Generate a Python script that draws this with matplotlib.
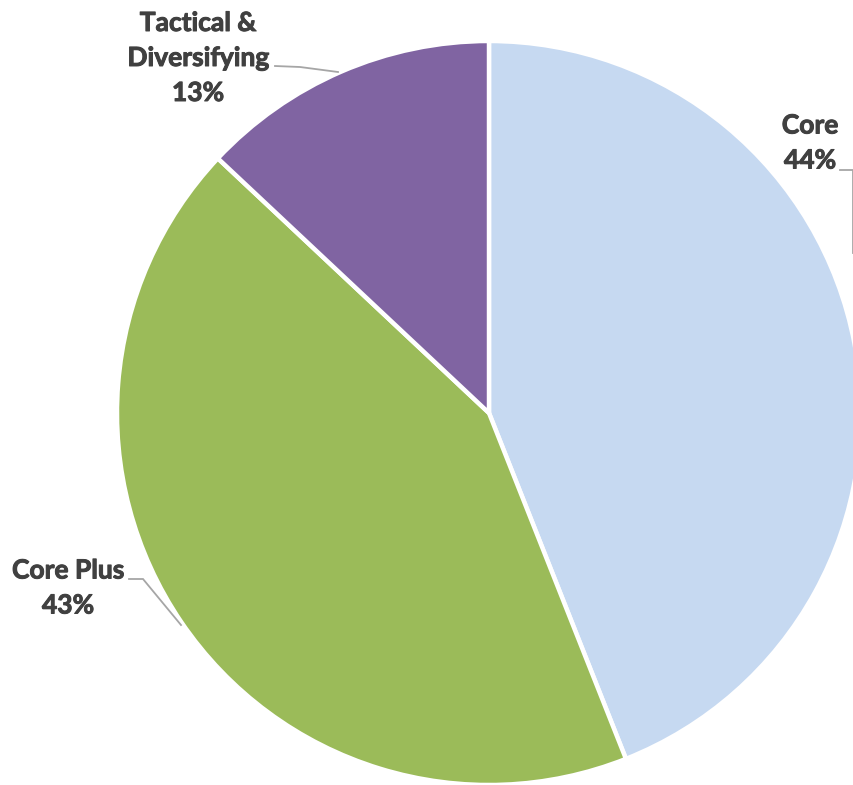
import matplotlib
matplotlib.use("Agg")
import matplotlib.pyplot as plt
import matplotlib.patheffects as pe

# Asset mix
categorias = ["Core", "Core Plus", "Tactical &\nDiversifying"]
percentuais = [44, 43, 13]
cores = ["#C6D9F1", "#9BBB59", "#8064A2"]

# Label placement (pixel coords, y downwards) and leader paths
pos_rotulos = [(810, 143), (68, 588), (198, 58)]
guias = [
    [(840, 170), (853, 170), (853, 253)],
    [(129, 579), (143, 579), (181, 625)],
    [(275, 66), (300, 67), (338, 72)],
]

W, H = 854, 785


def py(y):
    # converte y de pixel (de cima para baixo) para coordenada do eixo
    return H - y


fig = plt.figure(figsize=(W / 100, H / 100), dpi=100)
ax = fig.add_axes([0, 0, 1, 1])

ax.pie(percentuais, colors=cores, startangle=90, counterclock=False,
       center=(489, py(413)), radius=372,
       wedgeprops=dict(edgecolor="white", linewidth=3.2))

ax.set_xlim(0, W)
ax.set_ylim(0, H)
ax.set_aspect("equal")
ax.axis("off")

contorno = [pe.withStroke(linewidth=0.7, foreground="#404040")]

for nome, pct, (x, y), guia in zip(categorias, percentuais, pos_rotulos, guias):
    ax.text(x, py(y), f"{nome}\n{pct}%", ha="center", va="center",
            fontsize=19, fontweight="bold", family="Lato", color="#404040",
            linespacing=1.55, path_effects=contorno)
    xs = [p[0] for p in guia]
    ys = [py(p[1]) for p in guia]
    ax.plot(xs, ys, color="#A6A6A6", lw=1.3, solid_joinstyle="miter")

fig.savefig("out.png", dpi=100)
